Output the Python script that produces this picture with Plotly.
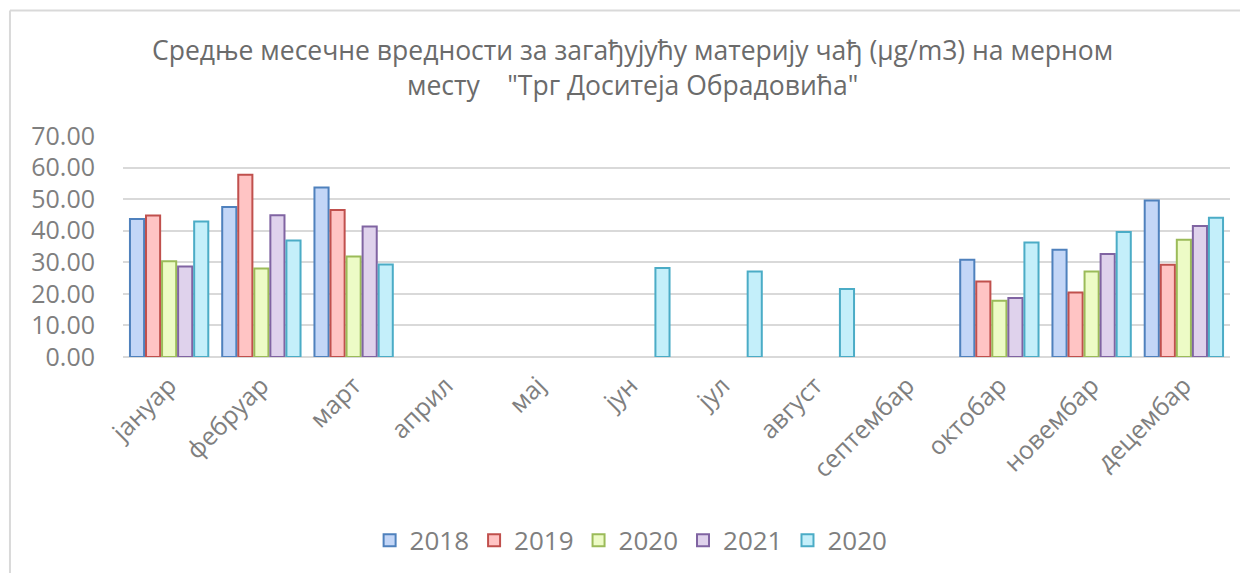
import plotly.graph_objects as go

months = ["јануар", "фебруар", "март", "април", "мај", "јун", "јул", "август",
          "септембар", "октобар", "новембар", "децембар"]
series_names = ["2018", "2019", "2020", "2021", "2020 "]
v2018 = [43.7, 47.5, 53.7, None, None, None, None, None, None, 30.8, 34.0, 49.6]
v2019 = [44.8, 57.7, 46.6, None, None, None, None, None, None, 23.9, 20.4, 29.2]
v2020 = [30.3, 28.0, 31.8, None, None, None, None, None, None, 17.8, 27.1, 37.1]
v2021 = [28.7, 44.9, 41.3, None, None, None, None, None, None, 18.7, 32.6, 41.5]
v2020b = [42.9, 36.9, 29.3, None, None, 28.2, 27.1, 21.5, None, 36.3, 39.6, 44.1]
values = [v2018, v2019, v2020, v2021, v2020b]
title_lines = ["Средње месечне вредности за загађујућу материју чађ (µg/m3) на мерном",
               "месту    \"Трг Доситеја Обрадовића\""]

line_colors = ["#4F81BD", "#C0504D", "#9BBB59", "#8064A2", "#4BACC6"]
fill_colors = ["#C3D6F7", "#FFC4C4", "#EDFBC6", "#DFD2EC", "#C4EFFA"]

fig = go.Figure()
for name, vals, lc, fc in zip(series_names, values, line_colors, fill_colors):
    fig.add_trace(go.Bar(
        x=months, y=vals, name=name.strip(),
        marker=dict(color=fc, line=dict(color=lc, width=2)),
    ))

font_family = "Open Sans, Noto Sans, DejaVu Sans, sans-serif"

# page body has an 8px margin; the figure is sized/offset to compensate
fig.update_layout(
    width=1240, height=565,
    paper_bgcolor="white", plot_bgcolor="white",
    margin=dict(l=115, r=18, t=128, b=216, autoexpand=False),
    barmode="group", bargap=0.13, bargroupgap=0.12,
    font=dict(family=font_family, color="#7F7F7F", size=20),
    xaxis=dict(
        tickangle=-45, tickfont=dict(size=25, color="#7F7F7F"),
        showgrid=False, showline=False, ticks="", automargin=False,
        ticklabelstandoff=8,
    ),
    yaxis=dict(
        range=[0, 70], dtick=10, tickformat=".2f",
        tickfont=dict(size=25, color="#7F7F7F"),
        showgrid=True, gridcolor="#D9D9D9", gridwidth=1.5,
        zeroline=True, zerolinecolor="#D9D9D9", zerolinewidth=1.5,
        showline=False, ticks="", ticklabelstandoff=27, automargin=False,
    ),
    legend=dict(
        orientation="h", x=0.459, xanchor="center", y=-0.83, yanchor="middle",
        font=dict(size=26, color="#7F7F7F"), itemwidth=30, traceorder="normal",
    ),
    showlegend=True,
)

for line, yp in zip(title_lines, [1.389, 1.23]):
    fig.add_annotation(text=line, xref="paper", yref="paper", x=0.4607, y=yp,
                       xanchor="center", yanchor="middle", showarrow=False,
                       font=dict(family=font_family, size=26.5, color="#6B6B6B"))

# outer chart border (top and left edges visible)
fig.add_shape(type="line", xref="paper", yref="paper",
              x0=-0.1021, x1=1.02, y0=1.568, y1=1.568,
              line=dict(color="#D9D9D9", width=2))
fig.add_shape(type="line", xref="paper", yref="paper",
              x0=-0.1021, x1=-0.1021, y0=1.568, y1=-1.1,
              line=dict(color="#D9D9D9", width=2))

fig.write_html("out.html")
